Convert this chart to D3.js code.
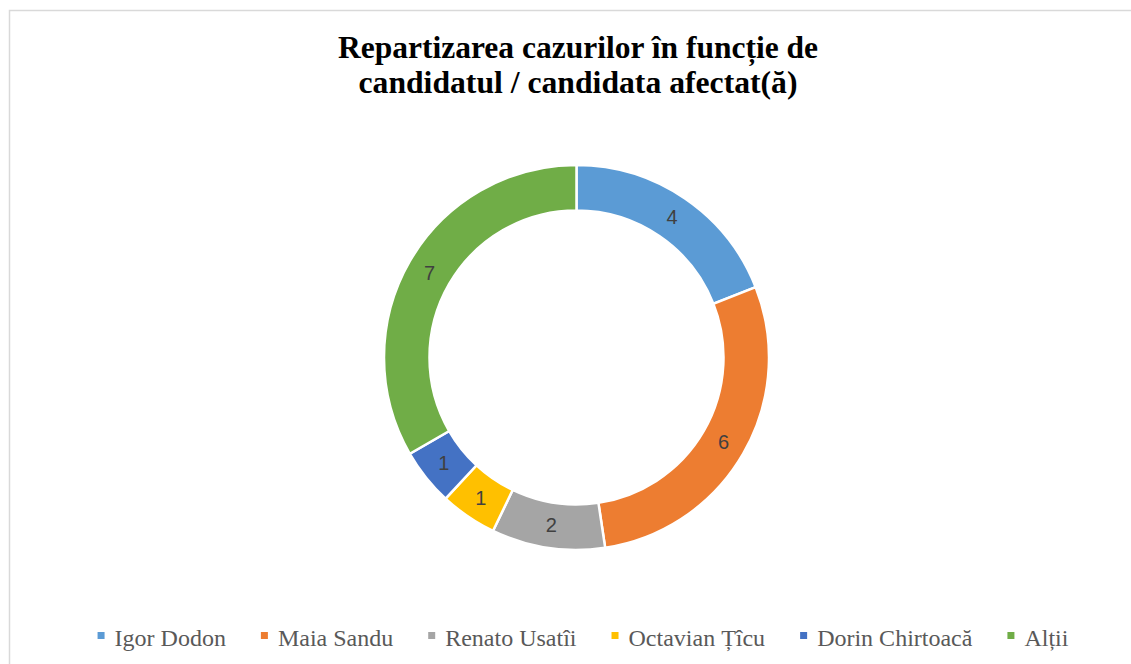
<!DOCTYPE html>
<html><head><meta charset="utf-8">
<script src="https://cdn.jsdelivr.net/npm/d3@7"></script>
<style>
html,body{margin:0;padding:0;background:#fff;}
svg{display:block;}
</style></head>
<body>
<svg id="chart" width="1131" height="664"></svg>
<script>
const categories = ["Igor Dodon","Maia Sandu","Renato Usatîi","Octavian Țîcu","Dorin Chirtoacă","Alții"];
const values = [4,6,2,1,1,7];
const colors = ["#5B9BD5","#ED7D31","#A5A5A5","#FFC000","#4472C4","#70AD47"];
const titleLines = ["Repartizarea cazurilor în funcție de","candidatul / candidata afectat(ă)"];

const svg = d3.select("#chart");
const W = 1131, H = 664;

// border
svg.append("rect").attr("x",9.5).attr("y",10.5).attr("width",W+20).attr("height",H+20)
  .attr("fill","#fff").attr("stroke","#d9d9d9").attr("stroke-width",1.5);

// title
const title = svg.append("text").attr("text-anchor","middle")
  .attr("font-family","'Liberation Serif', 'DejaVu Serif', serif")
  .attr("font-weight","bold").attr("font-size",31).attr("fill","#000");
const titleWidths=[480,439];
titleLines.forEach((t,i)=>{
  title.append("tspan").attr("x",578).attr("y",58+i*35).text(t)
    .attr("textLength",titleWidths[i]).attr("lengthAdjust","spacingAndGlyphs");
});

// donut
const cx=576.5, cy=357.5, rO=192.5, rI=147;
const pie = d3.pie().sort(null).value(d=>d)(values);
const arc = d3.arc().innerRadius(rI).outerRadius(rO);
const labelArc = d3.arc().innerRadius((rI+rO)/2).outerRadius((rI+rO)/2);
const g = svg.append("g").attr("transform",`translate(${cx},${cy})`);
g.selectAll("path").data(pie).join("path")
  .attr("d",arc).attr("fill",(d,i)=>colors[i])
  .attr("stroke","#fff").attr("stroke-width",2.5);
g.selectAll("text").data(pie).join("text")
  .attr("transform",d=>`translate(${labelArc.centroid(d)})`)
  .attr("text-anchor","middle").attr("dy","0.35em")
  .attr("font-family","'Liberation Sans', Arial, sans-serif").attr("font-size",20)
  .attr("fill","#404040").text(d=>d.data);

// legend
const leg = svg.append("g");
const items = leg.selectAll("g").data(categories).join("g");
items.append("rect").attr("width",7).attr("height",7).attr("y",-14)
  .attr("fill",(d,i)=>colors[i]);
items.append("text").attr("x",17).attr("y",0)
  .attr("font-family","'Liberation Serif', 'DejaVu Serif', serif")
  .attr("font-size",24).attr("fill","#595959").text(d=>d);
let x=0; const gap=35; const pos=[];
items.each(function(){
  const w=d3.select(this).select("text").node().getComputedTextLength();
  pos.push(x); x+=17+w+gap;
});
const total=x-gap; const startX=583-total/2;
items.attr("transform",(d,i)=>`translate(${startX+pos[i]},646)`);
</script>
</body></html>
